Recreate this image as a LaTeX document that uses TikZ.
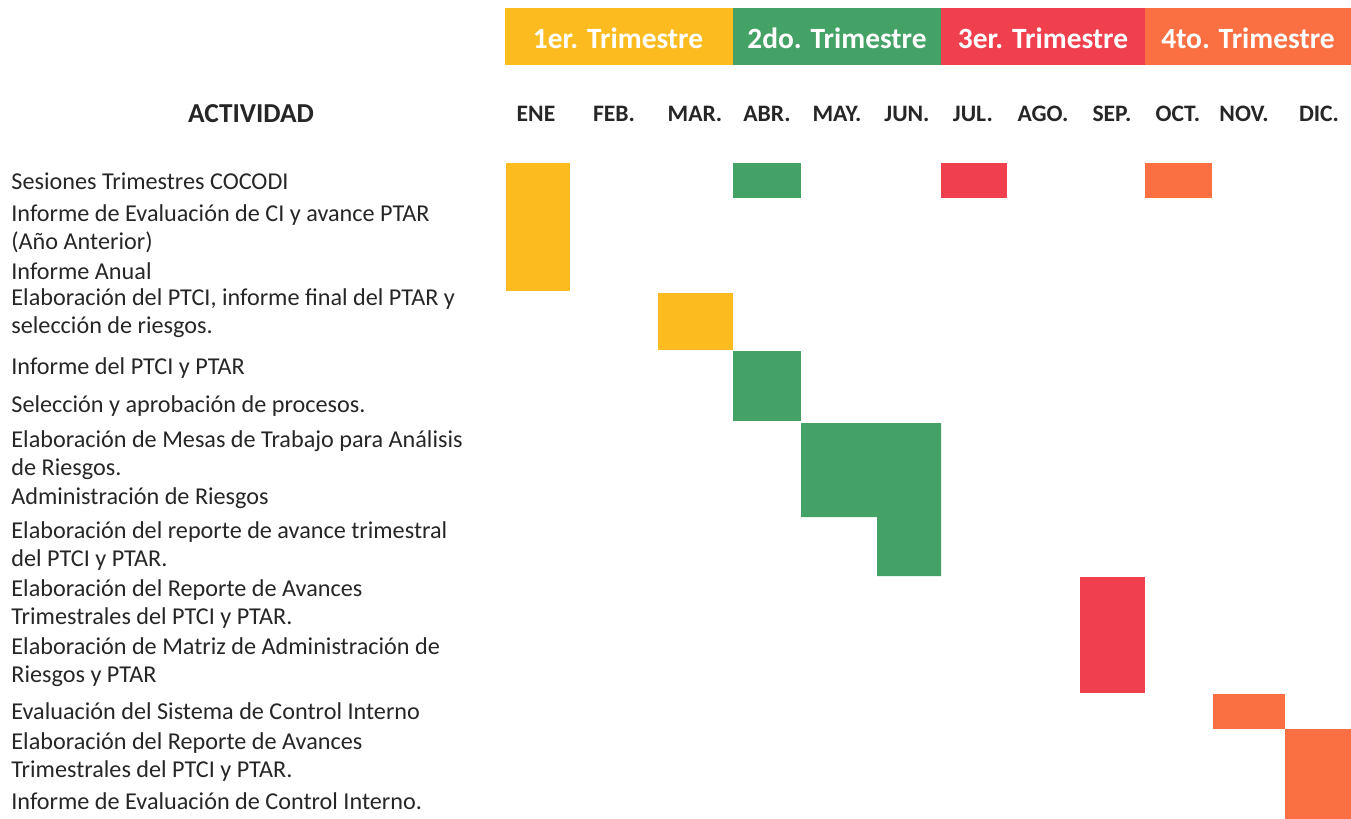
\documentclass[tikz,border=0pt]{standalone}
\usepackage{fontspec}
\setmainfont{Carlito}
\definecolor{cyel}{RGB}{252,188,32}
\definecolor{cgrn}{RGB}{68,162,102}
\definecolor{cred}{RGB}{240,64,78}
\definecolor{corg}{RGB}{250,112,66}
\begin{document}
\begin{tikzpicture}[x=0.5pt,y=-0.5pt,
  hdr/.style={font=\fontsize{14.7}{17}\selectfont\bfseries,text=white},
  mon/.style={font=\fontsize{11.8}{14}\selectfont\bfseries,text=black!85},
  act/.style={anchor=west,align=left,inner sep=0pt,font=\fontsize{12.1}{14}\selectfont,text=black!85},
  bar/.style={fill=#1}]
\useasboundingbox (0,0) rectangle (1351,819);
% header bands
\fill[cyel] (505,8) rectangle (733,65);
\fill[cgrn] (733,8) rectangle (941,65);
\fill[cred] (941,8) rectangle (1145,65);
\fill[corg] (1145,8) rectangle (1351,65);
\node[hdr] (q1) at (618,38) {1er. Trimestre};
\node[hdr] (q2) at (837,38) {2do. Trimestre};
\node[hdr] (q3) at (1043,38) {3er. Trimestre};
\node[hdr] (q4) at (1248,38) {4to. Trimestre};
% months
\node[font=\fontsize{13.7}{16}\selectfont\bfseries,text=black!85] (actividad) at (251,114) {ACTIVIDAD};
\node[mon] (m1) at (536,114) {ENE};
\node[mon] (m2) at (614,114) {FEB.};
\node[mon] (m3) at (695,114) {MAR.};
\node[mon] (m4) at (767,114) {ABR.};
\node[mon] (m5) at (837,114) {MAY.};
\node[mon] (m6) at (907,114) {JUN.};
\node[mon] (m7) at (973,114) {JUL.};
\node[mon] (m8) at (1043,114) {AGO.};
\node[mon] (m9) at (1112,114) {SEP.};
\node[mon] (m10) at (1178,114) {OCT.};
\node[mon] (m11) at (1244,114) {NOV.};
\node[mon] (m12) at (1319,114) {DIC.};
% activities
\node[act] (a1) at (11,181) {Sesiones Trimestres COCODI};
\node[act] (a2) at (11,229) {Informe de Evaluación de CI y avance PTAR\\(Año Anterior)};
\node[act] (a3) at (11,271) {Informe Anual};
\node[act] (a4) at (11,313) {Elaboración del PTCI, informe final del PTAR y\\selección de riesgos.};
\node[act] (a5) at (11,368) {Informe del PTCI y PTAR};
\node[act] (a6) at (11,406) {Selección y aprobación de procesos.};
\node[act] (a7) at (11,455) {Elaboración de Mesas de Trabajo para Análisis\\de Riesgos.};
\node[act] (a8) at (11,498) {Administración de Riesgos};
\node[act] (a9) at (11,546) {Elaboración del reporte de avance trimestral\\del PTCI y PTAR.};
\node[act] (a10) at (11,604) {Elaboración del Reporte de Avances\\Trimestrales del PTCI y PTAR.};
\node[act] (a11) at (11,662) {Elaboración de Matriz de Administración de\\Riesgos y PTAR};
\node[act] (a12) at (11,711) {Evaluación del Sistema de Control Interno};
\node[act] (a13) at (11,757) {Elaboración del Reporte de Avances\\Trimestrales del PTCI y PTAR.};
\node[act] (a14) at (11,801) {Informe de Evaluación de Control Interno.};
% bars
\fill[bar=cyel] (506,163) rectangle (570,291);
\fill[bar=cgrn] (733,163) rectangle (801,198);
\fill[bar=cred] (941,163) rectangle (1007,198);
\fill[bar=corg] (1145,163) rectangle (1212,198);
\fill[bar=cyel] (658,293) rectangle (733,350);
\fill[bar=cgrn] (733,351) rectangle (801,421);
\fill[bar=cgrn] (801,423) -- (941,423) -- (941,576) -- (877,576) -- (877,517) -- (801,517) -- cycle;
\fill[bar=cred] (1080,577) rectangle (1145,693);
\fill[bar=corg] (1213,694) rectangle (1285,729);
\fill[bar=corg] (1285,729) rectangle (1351,819);
\end{tikzpicture}
\end{document}
